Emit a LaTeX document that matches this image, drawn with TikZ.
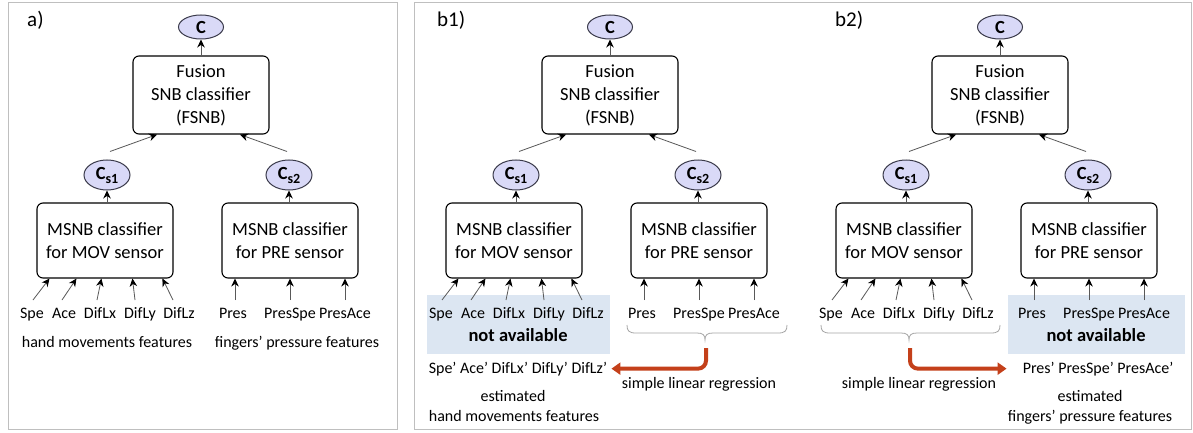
\documentclass[tikz,border=0pt]{standalone}
\usepackage{fontspec}
\setmainfont{Carlito}
\usetikzlibrary{arrows.meta,shapes.geometric,calc}

\definecolor{framegray}{HTML}{BFBFBF}
\definecolor{ellfill}{HTML}{D9D9F7}
\definecolor{elldraw}{HTML}{3A3A4A}
\definecolor{nafill}{HTML}{DCE6F2}
\definecolor{regred}{HTML}{C4401A}
\definecolor{bracegray}{HTML}{A6A6A6}

\newcommand\fbig{\fontsize{18.5}{23}\selectfont}
\newcommand\fsmall{\fontsize{16}{20}\selectfont}
\newcommand\flabel{\fontsize{21}{24}\selectfont}

\tikzset{
  classbox/.style={draw, line width=1.1pt, rounded corners=6pt, minimum width=136pt,
    align=center, font=\fbig, inner sep=0pt},
  outnode/.style={ellipse, draw=elldraw, fill=ellfill, line width=1pt, inner sep=0pt,
    font=\fbig\bfseries},
  feat/.style={font=\fsmall, anchor=base, inner sep=0pt},
  panellabel/.style={font=\flabel, anchor=base west, inner sep=0pt},
  nalabel/.style={font=\fbig\bfseries, anchor=base, inner sep=0pt},
  arr/.style={draw=black!65, line width=0.8pt, -{Stealth[length=8pt,width=7.5pt,black]}},
  regarrow/.style={draw=regred, line width=4pt, rounded corners=8pt,
    -{Triangle[length=9pt,width=12pt]}},
  bracestyle/.style={draw=bracegray, line width=0.8pt},
  panelframe/.style={draw=framegray, line width=1pt},
}

% one classifier tree; #1 is the prefix of its node names
\newcommand\drawtree[1]{%
  \node[outnode, minimum width=45pt, minimum height=24pt] (#1c) at (201,27) {C};
  \node[classbox, minimum height=78pt] (#1fus) at (201,95) {Fusion\\SNB classifier\\(FSNB)};
  \node[outnode, minimum width=46pt, minimum height=30pt] (#1cs1) at (107,175)
    {C\raisebox{-4pt}{\fontsize{14}{14}\selectfont s1}};
  \node[outnode, minimum width=46pt, minimum height=30pt] (#1cs2) at (289,175)
    {C\raisebox{-4pt}{\fontsize{14}{14}\selectfont s2}};
  \node[classbox, minimum height=75pt] (#1mov) at (105,240.5) {MSNB classifier\\for MOV sensor};
  \node[classbox, minimum height=75pt] (#1pre) at (290,240.5) {MSNB classifier\\for PRE sensor};
  % feature labels
  \node[feat] (#1spe) at (32,318) {Spe};
  \node[feat] (#1ace) at (64,318) {Ace};
  \node[feat] (#1dx) at (100,318) {DifLx};
  \node[feat] (#1dy) at (140,318) {DifLy};
  \node[feat] (#1dz) at (179,318) {DifLz};
  \node[feat] (#1pres) at (233,318) {Pres};
  \node[feat] (#1pspe) at (290,318) {PresSpe};
  \node[feat] (#1pace) at (345,318) {PresAce};
  % connectors
  \draw[arr] (#1fus.north) -- (#1c.south);
  \draw[arr] ($(#1cs1.north)+(3,-8)$) -- ($(#1fus.south)+(-44,0)$);
  \draw[arr] ($(#1cs2.north)+(-2,-8)$) -- ($(#1fus.south)+(39,0)$);
  \draw[arr] (#1mov.north -| #1cs1) -- (#1cs1.south);
  \draw[arr] (#1pre.north -| #1cs2) -- (#1cs2.south);
  \draw[arr] ($(#1spe.base)+(1,-18)$) -- ($(#1mov.south west)+(13,0)$);
  \draw[arr] ($(#1ace.base)+(-2,-18)$) -- ($(#1mov.south west)+(40,0)$);
  \draw[arr] ($(#1dx.base)+(-3,-18)$) -- ($(#1mov.south west)+(65,0)$);
  \draw[arr] ($(#1dy.base)+(-5,-18)$) -- ($(#1mov.south west)+(96,0)$);
  \draw[arr] ($(#1dz.base)+(-6,-18)$) -- ($(#1mov.south west)+(126,0)$);
  \draw[arr] ($(#1pres.base)+(2,-18)$) coordinate (#1tp) -- (#1tp |- #1pre.south);
  \draw[arr] ($(#1pspe.base)+(0,-18)$) coordinate (#1tq) -- (#1tq |- #1pre.south);
  \draw[arr] ($(#1pace.base)+(0,-18)$) coordinate (#1tr) -- (#1tr |- #1pre.south);
}

\begin{document}
\begin{tikzpicture}[x=1pt, y=-1pt]
  \useasboundingbox (0,0) rectangle (1193,433);
  \fill[white] (0,0) rectangle (1193,433);

  % panel frames
  \draw[panelframe] (8,3) rectangle (397,429);
  \draw[panelframe] (414,3) rectangle (1191,429);

  % shaded "not available" areas
  \fill[nafill] (427,295) rectangle (610,354);
  \fill[nafill] (1008,295) rectangle (1185,354);

  % ---------- a) ----------
  \node[panellabel] (la) at (27,27) {a)};
  \drawtree{a}
  \node[feat] (acap1) at (107,347) {hand movements features};
  \node[feat] (acap2) at (297,347) {fingers’ pressure features};

  % ---------- b1) ----------
  \node[panellabel] (lb1) at (437,27) {b1)};
  \begin{scope}[xshift=409pt]
    \drawtree{p}
  \end{scope}
  \node[nalabel] (pna) at (518,341) {not available};
  \node[feat] (pest) at (518,373) {Spe’ Ace’ DifLx’ DifLy’ DifLz’};
  \node[feat] (preg) at (699,388) {simple linear regression};
  \node[feat] (pe1) at (513,401) {estimated};
  \node[feat] (pe2) at (514,421) {hand movements features};
  \draw[bracestyle] (627,325) .. controls (627,331) and (629,333) .. (636,333) -- (697,333)
    .. controls (703,333) and (705,335) .. (705,340)
    .. controls (705,335) and (707,333) .. (713,333) -- (778,333)
    .. controls (785,333) and (787,331) .. (787,325);
  \coordinate (ptip) at (706,348);
  \draw[regarrow, shorten >=4pt] (ptip) |- (pest.east);

  % ---------- b2) ----------
  \node[panellabel] (lb2) at (835,27) {b2)};
  \begin{scope}[xshift=799pt]
    \drawtree{q}
  \end{scope}
  \node[nalabel] (qna) at (1096,341) {not available};
  \node[feat] (qest) at (1098,373) {Pres’ PresSpe’ PresAce’};
  \node[feat] (qreg) at (919,388) {simple linear regression};
  \node[feat] (qe1) at (1090,401) {estimated};
  \node[feat] (qe2) at (1090,421) {fingers’ pressure features};
  \draw[bracestyle] (821,325) .. controls (821,331) and (823,333) .. (830,333) -- (901,333)
    .. controls (907,333) and (909,335) .. (909,340)
    .. controls (909,335) and (911,333) .. (917,333) -- (991,333)
    .. controls (998,333) and (1000,331) .. (1000,325);
  \coordinate (qtip) at (910,348);
  \draw[regarrow, shorten >=16pt] (qtip) |- (qest.west);
\end{tikzpicture}
\end{document}
